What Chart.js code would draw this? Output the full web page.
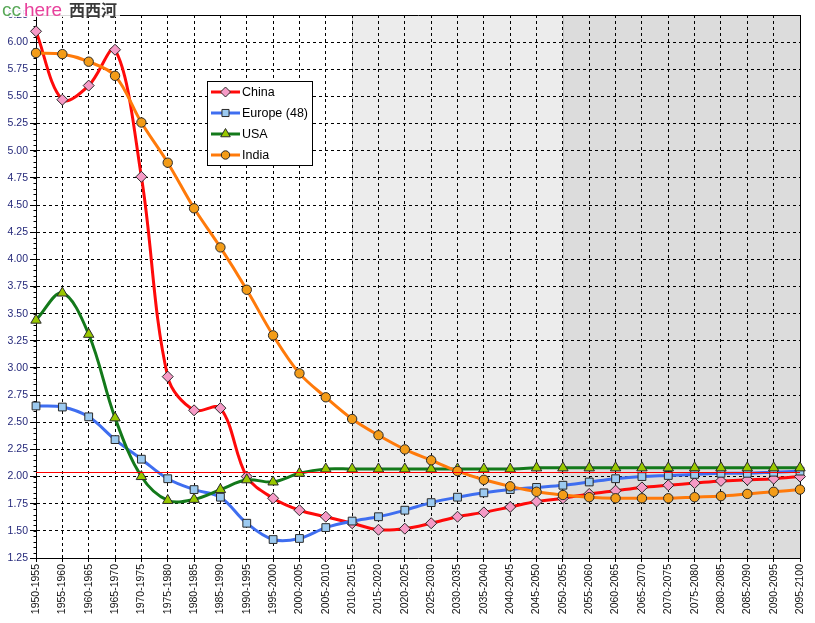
<!DOCTYPE html>
<html>
<head>
<meta charset="utf-8">
<script src="https://cdn.jsdelivr.net/npm/chart.js"></script>
<style>
html, body { margin: 0; padding: 0; background: #fff; }
#wrap { position: relative; width: 815px; height: 623px; }
#myChart { display: block; }
#mark {
  position: absolute; left: 0; top: 0; width: 120px; height: 17px;
  background: rgba(255, 255, 255, 0.85);
  font-family: "Liberation Sans", Arial, sans-serif; font-size: 19px; line-height: 18px;
  white-space: nowrap; overflow: visible;
}
</style>
</head>
<body>
<div id="wrap">
  <canvas id="myChart" width="815" height="623"></canvas>
  <div id="mark"><span style="color:#58a858;margin-left:2px">cc</span><span style="color:#e8409c;margin-left:3px">here</span><span style="color:#3a3a3a;margin-left:7px;font-family:'Noto Sans CJK SC';font-size:16px;font-weight:bold">西西河</span></div>
</div>
<script>
var periods = ['1950-1955', '1955-1960', '1960-1965', '1965-1970', '1970-1975', '1975-1980',
  '1980-1985', '1985-1990', '1990-1995', '1995-2000', '2000-2005', '2005-2010',
  '2010-2015', '2015-2020', '2020-2025', '2025-2030', '2030-2035', '2035-2040',
  '2040-2045', '2045-2050', '2050-2055', '2055-2060', '2060-2065', '2065-2070',
  '2070-2075', '2075-2080', '2080-2085', '2085-2090', '2090-2095', '2095-2100'];

var china = [6.10, 5.47, 5.60, 5.93, 4.76, 2.92, 2.61, 2.63, 2.00, 1.80,
  1.69, 1.63, 1.57, 1.51, 1.52, 1.57, 1.63, 1.67, 1.72, 1.77,
  1.80, 1.84, 1.87, 1.90, 1.92, 1.94, 1.96, 1.97, 1.98, 2.00];

var europe = [2.65, 2.64, 2.55, 2.34, 2.16, 1.98, 1.88, 1.81, 1.57, 1.42,
  1.43, 1.53, 1.59, 1.63, 1.69, 1.76, 1.81, 1.85, 1.88, 1.90,
  1.92, 1.95, 1.98, 2.00, 2.01, 2.02, 2.03, 2.03, 2.04, 2.05];

var usa = [3.44, 3.69, 3.31, 2.54, 2.00, 1.78, 1.79, 1.88, 1.97, 1.95,
  2.03, 2.07, 2.07, 2.07, 2.07, 2.07, 2.07, 2.07, 2.07, 2.08,
  2.08, 2.08, 2.08, 2.08, 2.08, 2.08, 2.08, 2.08, 2.08, 2.08];

var india = [5.90, 5.89, 5.82, 5.69, 5.26, 4.89, 4.47, 4.11, 3.72, 3.30,
  2.95, 2.73, 2.53, 2.38, 2.25, 2.15, 2.05, 1.97, 1.91, 1.86,
  1.83, 1.81, 1.80, 1.80, 1.80, 1.81, 1.82, 1.84, 1.86, 1.88];

// replacement level line and the two projection bands
var replacement = 2.04;
var nearStart = '2010-2015';
var farStart = '2050-2055';

var yMin = 1.25, yMax = 6.25, yStep = 0.25, yMinorStep = 0.05;

var fontFace = '"Liberation Sans", Arial, sans-serif';

// shaded bands behind the grid
var bands = {
  id: 'bands',
  beforeDraw: function(chart) {
    var ctx = chart.ctx, a = chart.chartArea, x = chart.scales.x;
    var x1 = Math.round(x.getPixelForValue(periods.indexOf(nearStart)));
    var x2 = Math.round(x.getPixelForValue(periods.indexOf(farStart)));
    ctx.save();
    ctx.fillStyle = '#ececec';
    ctx.fillRect(x1, a.top, x2 - x1, a.bottom - a.top);
    ctx.fillStyle = '#dcdcdc';
    ctx.fillRect(x2, a.top, a.right - x2, a.bottom - a.top);
    ctx.strokeStyle = '#c0c0c0';
    ctx.lineWidth = 1;
    ctx.beginPath();
    ctx.moveTo(x1 + 0.5, a.top); ctx.lineTo(x1 + 0.5, a.bottom);
    ctx.moveTo(x2 + 0.5, a.top); ctx.lineTo(x2 + 0.5, a.bottom);
    ctx.stroke();
    ctx.restore();
  }
};

// frame round the plot, minor ticks on the y axis, replacement line on top
var frame = {
  id: 'frame',
  beforeDatasetsDraw: function(chart) {
    var ctx = chart.ctx, a = chart.chartArea, y = chart.scales.y;
    var l = Math.round(a.left) + 0.5, r = Math.round(a.right) + 0.5;
    var t = Math.round(a.top) + 0.5, b = Math.round(a.bottom) + 0.5;
    ctx.save();
    ctx.strokeStyle = '#000';
    ctx.lineWidth = 1;
    ctx.beginPath();
    ctx.moveTo(l, t); ctx.lineTo(r, t); ctx.lineTo(r, b);
    var n = Math.round((yMax - yMin) / yMinorStep);
    for (var i = 0; i <= n; i++) {
      var py = Math.round(y.getPixelForValue(yMin + i * yMinorStep)) + 0.5;
      ctx.moveTo(l - 3, py); ctx.lineTo(l, py);
    }
    ctx.stroke();
    ctx.restore();
  },
  afterDatasetsDraw: function(chart) {
    var ctx = chart.ctx, a = chart.chartArea, y = chart.scales.y;
    var py = Math.round(y.getPixelForValue(replacement)) + 0.5;
    ctx.save();
    ctx.strokeStyle = '#ff0000';
    ctx.lineWidth = 1;
    ctx.beginPath();
    ctx.moveTo(a.left, py); ctx.lineTo(a.right, py);
    ctx.stroke();
    ctx.restore();
  }
};

// boxed legend inside the plot
var boxLegend = {
  id: 'boxLegend',
  afterDraw: function(chart, args, opts) {
    var ctx = chart.ctx;
    ctx.save();
    ctx.fillStyle = '#fff';
    ctx.fillRect(opts.x, opts.y, opts.w, opts.h);
    ctx.strokeStyle = '#000';
    ctx.lineWidth = 1;
    ctx.strokeRect(opts.x + 0.5, opts.y + 0.5, opts.w, opts.h);
    chart.data.datasets.forEach(function(ds, i) {
      var cy = opts.y + 11 + i * opts.row;
      var lx = opts.x + 4;
      ctx.strokeStyle = ds.borderColor;
      ctx.lineWidth = 3;
      ctx.beginPath();
      ctx.moveTo(lx, cy); ctx.lineTo(lx + 29, cy);
      ctx.stroke();
      ctx.fillStyle = ds.pointBackgroundColor;
      ctx.strokeStyle = ds.pointBorderColor;
      ctx.lineWidth = 1;
      Chart.helpers.drawPoint(ctx, {
        pointStyle: ds.pointStyle, radius: ds.pointRadius - 0.5, rotation: 0, borderWidth: 1
      }, lx + 14.5, cy);
      ctx.fillStyle = '#000';
      ctx.font = '12.5px ' + fontFace;
      ctx.textBaseline = 'middle';
      ctx.textAlign = 'left';
      ctx.fillText(ds.label, lx + 31, cy + 1);
    });
    ctx.restore();
  }
};

var ctx = document.getElementById('myChart').getContext('2d');
var chart = new Chart(ctx, {
  type: 'line',
  data: {
    labels: periods,
    datasets: [
      {
        label: 'China', data: china, order: 4,
        borderColor: '#ff0a0a', borderWidth: 3, tension: 0.35,
        pointStyle: 'rectRot', pointRadius: 5.5,
        pointBackgroundColor: '#f59ac6', pointBorderColor: '#2a2a2a', pointBorderWidth: 1
      },
      {
        label: 'Europe (48)', data: europe, order: 3,
        borderColor: '#3f6ef0', borderWidth: 3, tension: 0.35,
        pointStyle: 'rect', pointRadius: 5.5,
        pointBackgroundColor: '#9ccaf0', pointBorderColor: '#2a2a2a', pointBorderWidth: 1
      },
      {
        label: 'USA', data: usa, order: 2,
        borderColor: '#13791a', borderWidth: 3, tension: 0.35,
        pointStyle: 'triangle', pointRadius: 6,
        pointBackgroundColor: '#99c800', pointBorderColor: '#2a2a2a', pointBorderWidth: 1
      },
      {
        label: 'India', data: india, order: 1,
        borderColor: '#ff7a0a', borderWidth: 3, tension: 0.35,
        pointStyle: 'circle', pointRadius: 4.7,
        pointBackgroundColor: '#f39c18', pointBorderColor: '#2a2a2a', pointBorderWidth: 1
      }
    ]
  },
  options: {
    responsive: false,
    animation: false,
    events: [],
    devicePixelRatio: 1,
    layout: { padding: { top: 15, right: 15, left: 0, bottom: 0 } },
    plugins: {
      legend: { display: false },
      tooltip: { enabled: false },
      boxLegend: { x: 207, y: 81, w: 105, h: 84, row: 21 }
    },
    scales: {
      x: {
        type: 'category',
        offset: false,
        afterFit: function(s) { s.height = 65; },
        grid: { color: '#000', lineWidth: 1, tickLength: 4, tickColor: '#000', offset: false },
        border: { display: true, color: '#000', width: 1, dash: [3, 3] },
        ticks: {
          autoSkip: false, maxRotation: 90, minRotation: 90, padding: 2,
          color: '#111', font: { family: fontFace, size: 10.5 }
        }
      },
      y: {
        min: yMin, max: yMax,
        afterFit: function(s) { s.width = 36; },
        grid: { color: '#000', lineWidth: 1, tickLength: 6, tickColor: '#000' },
        border: { display: true, color: '#000', width: 1, dash: [3, 3] },
        ticks: {
          stepSize: yStep, padding: 2,
          color: '#24287a', font: { family: fontFace, size: 10.5 },
          callback: function(v) { return Number(v).toFixed(2); }
        }
      }
    }
  },
  plugins: [bands, frame, boxLegend]
});
</script>
</body>
</html>
